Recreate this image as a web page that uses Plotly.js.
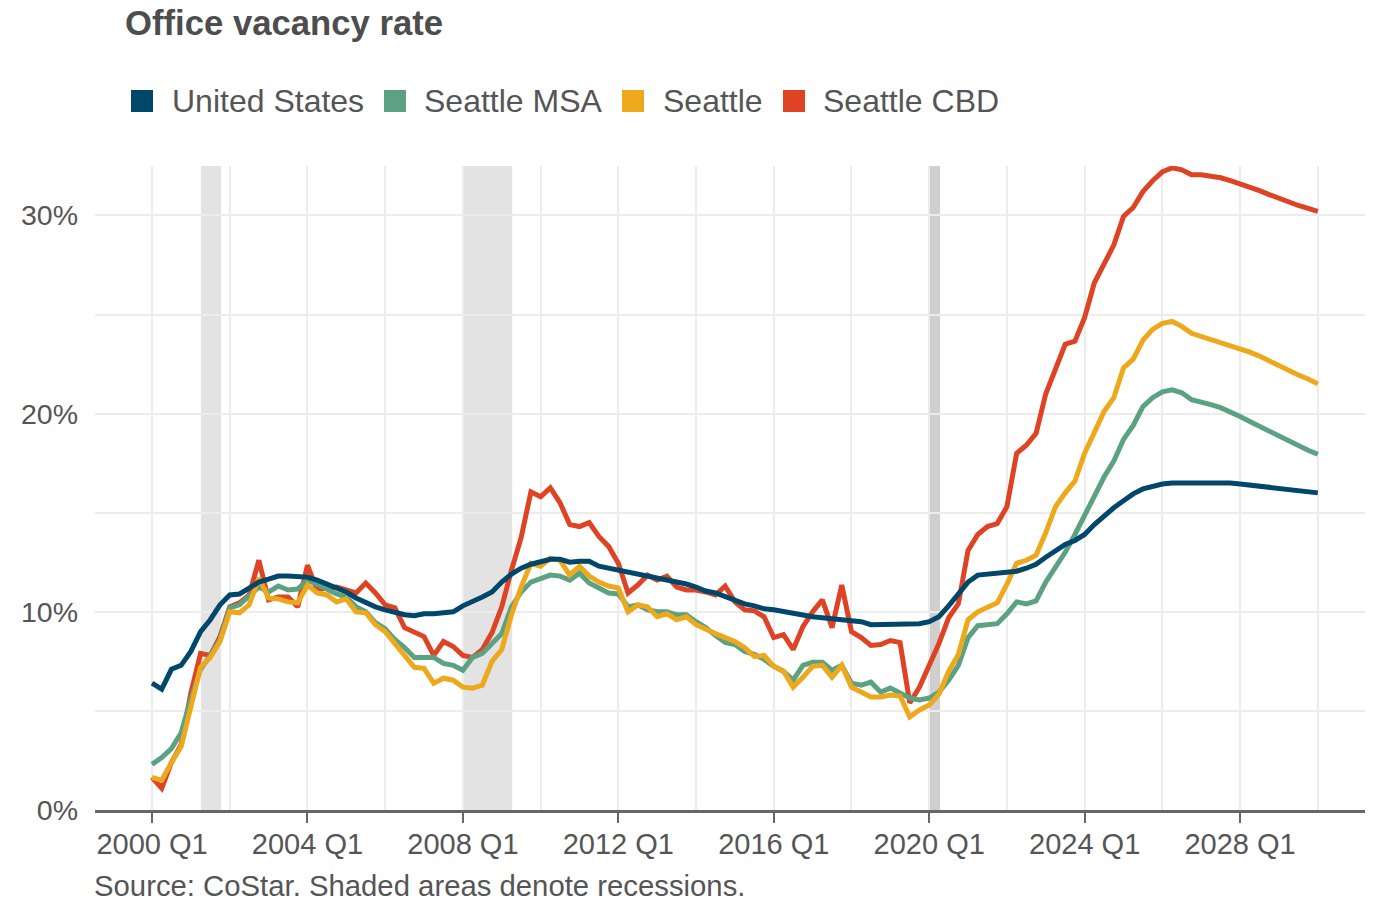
<!DOCTYPE html>
<html>
<head>
<meta charset="utf-8">
<script src="https://cdn.plot.ly/plotly-3.0.1.min.js"></script>
<style>
html,body{margin:0;padding:0;background:#ffffff;}
#chart{width:1384px;height:901px;}
</style>
</head>
<body>
<div id="chart"></div>
<script>
// ---------------- DATA ----------------
const seriesNames = ['United States', 'Seattle MSA', 'Seattle', 'Seattle CBD'];
const seriesColors = ['#01476b', '#5ba282', '#eea81c', '#de4324'];

const firstQuarterYear = 2000; // series start 2000 Q1, quarterly, through 2030 Q1

const unitedStates = [
  6.4, 6.1, 7.1, 7.3, 8.0, 9.0, 9.6, 10.35, 10.85, 10.9,
  11.2, 11.5, 11.65, 11.8, 11.8, 11.8, 11.75, 11.6, 11.4, 11.15,
  11.0, 10.7, 10.45, 10.25, 10.1, 9.95, 9.85, 9.8, 9.9, 9.9,
  9.95, 10.0, 10.3, 10.5, 10.75, 11.0, 11.5, 11.9, 12.2, 12.4,
  12.55, 12.65, 12.65, 12.5, 12.55, 12.55, 12.3, 12.2, 12.1, 12.0,
  11.95, 11.85, 11.7, 11.6, 11.5, 11.4, 11.25, 11.05, 10.95, 10.75,
  10.6, 10.4, 10.3, 10.15, 10.1, 10.0, 9.9, 9.8, 9.75, 9.7,
  9.65, 9.6, 9.55, 9.5, 9.35, 9.35, 9.35, 9.35, 9.35, 9.4,
  9.5, 9.75, 10.3, 10.9, 11.5, 11.85, 11.9, 11.9, 11.95, 12.05,
  12.2, 12.4, 12.75, 13.1, 13.4, 13.6, 13.9, 14.4, 14.85, 15.25,
  15.6, 15.95, 16.2, 16.35, 16.45, 16.5, 16.5, 16.5, 16.55, 16.55,
  16.55, 16.5, 16.45, 16.4, 16.35, 16.3, 16.25, 16.2, 16.15, 16.1,
  16.0
];

const seattleMSA = [
  2.3, 2.65, 3.1, 3.9, 5.6, 7.1, 7.8, 8.6, 10.2, 10.35,
  10.8, 11.25, 11.0, 11.3, 11.1, 11.15, 11.6, 11.35, 11.15, 10.9,
  10.75, 10.25, 10.0, 9.45, 9.15, 8.6, 8.2, 7.7, 7.7, 7.7,
  7.4, 7.3, 7.05, 7.7, 7.9, 8.4, 8.9, 10.25, 11.0, 11.5,
  11.7, 11.85, 11.8, 11.6, 11.95, 11.45, 11.2, 10.95, 10.9, 10.25,
  10.35, 10.1, 10.0, 10.0, 9.85, 9.85, 9.5, 9.2, 8.8, 8.45,
  8.35, 8.0, 7.85, 7.6, 7.25, 7.0, 6.55, 7.3, 7.45, 7.45,
  7.05, 7.3, 6.4, 6.3, 6.45, 5.95, 6.15, 5.9, 5.65, 5.55,
  5.65, 5.95, 6.55, 7.3, 8.7, 9.3, 9.35, 9.4, 9.9, 10.5,
  10.4, 10.55, 11.5, 12.2, 13.0, 13.9, 14.9, 15.8, 16.8, 17.6,
  18.7, 19.4, 20.35, 20.8, 21.1, 21.2, 21.05, 20.7, 20.6, 20.45,
  20.3, 20.1, 19.85, 19.6, 19.35, 19.1, 18.85, 18.6, 18.35, 18.15,
  17.95
];

const seattle = [
  1.65, 1.5, 2.4, 3.2, 5.2, 7.2, 7.7, 8.5, 10.0, 9.95,
  10.35, 11.7, 10.7, 10.65, 10.5, 10.45, 11.35, 10.95, 10.85, 10.5,
  10.65, 10.0, 9.95, 9.35, 9.0, 8.4, 7.8, 7.2, 7.15, 6.4,
  6.65, 6.55, 6.2, 6.15, 6.3, 7.5, 8.1, 9.85, 11.25, 12.45,
  12.3, 12.7, 12.6, 11.85, 12.3, 11.8, 11.5, 11.3, 11.2, 10.0,
  10.35, 10.25, 9.75, 9.9, 9.6, 9.75, 9.35, 9.1, 8.9, 8.7,
  8.5, 8.2, 7.75, 7.8, 7.25, 7.0, 6.2, 6.7, 7.25, 7.3,
  6.7, 7.3, 6.2, 5.95, 5.7, 5.7, 5.8, 5.75, 4.7, 5.05,
  5.3, 5.85, 7.0, 7.85, 9.6, 10.0, 10.25, 10.45, 11.4, 12.45,
  12.6, 12.85, 14.0, 15.3, 16.0, 16.6, 18.0, 19.1, 20.1, 20.8,
  22.3, 22.75, 23.7, 24.25, 24.55, 24.65, 24.4, 24.05, 23.9, 23.75,
  23.6, 23.45, 23.3, 23.1, 22.9, 22.65, 22.4, 22.2, 21.95, 21.75,
  21.5
];

const seattleCBD = [
  1.65, 1.1, 2.4, 3.3, 5.9, 7.9, 7.8, 8.75, 10.25, 10.45,
  10.85, 12.6, 10.6, 10.75, 10.75, 10.25, 12.35, 11.1, 11.2, 11.25,
  11.1, 10.95, 11.45, 10.95, 10.35, 10.2, 9.2, 8.95, 8.75, 7.8,
  8.5, 8.25, 7.8, 7.7, 8.1, 8.95, 10.25, 12.1, 13.75, 16.05,
  15.8, 16.25, 15.5, 14.4, 14.3, 14.5, 13.8, 13.3, 12.45, 10.95,
  11.35, 11.85, 11.6, 11.8, 11.25, 11.1, 11.1, 11.0, 10.85, 11.3,
  10.5, 10.1, 10.05, 9.75, 8.7, 8.85, 8.1, 9.25, 10.0, 10.6,
  9.2, 11.35, 9.0, 8.7, 8.3, 8.35, 8.55, 8.45, 5.4, 6.2,
  7.3, 8.4, 9.7, 10.4, 13.1, 13.9, 14.3, 14.45, 15.3, 18.0,
  18.4, 19.0, 21.0, 22.3, 23.5, 23.65, 24.85, 26.6, 27.6, 28.5,
  29.95, 30.4, 31.2, 31.75, 32.2, 32.4, 32.3, 32.05, 32.05, 32.0,
  31.9, 31.75, 31.6, 31.45, 31.25, 31.05, 30.85, 30.7, 30.5, 30.35,
  30.2
];

const xTickYears = [2000, 2004, 2008, 2012, 2016, 2020, 2024, 2028];
const xTickLabels = ['2000 Q1', '2004 Q1', '2008 Q1', '2012 Q1', '2016 Q1', '2020 Q1', '2024 Q1', '2028 Q1'];
const yTickValues = [0, 10, 20, 30];
const yTickLabels = ['0%', '10%', '20%', '30%'];

// recessions (decimal years)
const recessionStart = [2001.26, 2008.0, 2020.02];
const recessionEnd = [2001.78, 2009.27, 2020.28];
const recessionColors = ['#e3e3e3', '#e3e3e3', '#cfcfcf'];

const titleText = 'Office vacancy rate';
const sourceText = 'Source: CoStar. Shaded areas denote recessions.';

// ---------------- BUILD ----------------
const quarterX = unitedStates.map((_, i) => firstQuarterYear + i / 4);
const seriesValues = [unitedStates, seattleMSA, seattle, seattleCBD];

const FONT = '"Liberation Sans", Arial, Helvetica, sans-serif';
const TEXT = '#555555';

// plot area in pixels
const W = 1384, H = 901;
const M = {l: 95, r: 19, t: 166, b: 91};
const plotW = W - M.l - M.r, plotH = H - M.t - M.b;
const px2paperX = px => (px - M.l) / plotW;
const px2paperY = py => (H - M.b - py) / plotH;

// draw order: CBD, MSA, Seattle, US (US on top)
const drawOrder = [3, 1, 2, 0];
const traces = drawOrder.map(k => ({
  type: 'scatter',
  mode: 'lines',
  name: seriesNames[k],
  x: quarterX,
  y: seriesValues[k],
  line: {color: seriesColors[k], width: 5},
  showlegend: false,
  hoverinfo: 'skip'
}));

const shapes = recessionStart.map((s, i) => ({
  type: 'rect', xref: 'x', yref: 'paper',
  x0: s, x1: recessionEnd[i], y0: 0, y1: 1,
  fillcolor: recessionColors[i], line: {width: 0}, layer: 'below'
}));

// manual legend (square swatches + text)
const legendSquareLeft = [131, 384, 622, 783];
const legendTextLeft = [170, 422, 661, 821];
const legendCenterY = 101, sq = 22;
const annotations = [];
seriesNames.forEach((name, k) => {
  shapes.push({
    type: 'rect', xref: 'paper', yref: 'paper',
    x0: px2paperX(legendSquareLeft[k]), x1: px2paperX(legendSquareLeft[k] + sq),
    y0: px2paperY(legendCenterY + sq / 2), y1: px2paperY(legendCenterY - sq / 2),
    fillcolor: seriesColors[k], line: {width: 0}
  });
  annotations.push({
    xref: 'paper', yref: 'paper',
    x: px2paperX(legendTextLeft[k]), y: px2paperY(legendCenterY),
    xanchor: 'left', yanchor: 'middle', showarrow: false,
    text: name, font: {family: FONT, size: 32, color: TEXT}
  });
});
annotations.push({
  xref: 'paper', yref: 'paper',
  x: px2paperX(93), y: px2paperY(886),
  xanchor: 'left', yanchor: 'middle', showarrow: false, borderpad: 0,
  text: sourceText, font: {family: FONT, size: 29.3, color: TEXT}
});

const xLeft = firstQuarterYear - (152 - M.l) / 38.86;
const xRight = firstQuarterYear + (M.l + plotW - 152) / 38.86;

const layout = {
  width: W, height: H,
  margin: M,
  paper_bgcolor: '#ffffff',
  plot_bgcolor: '#ffffff',
  font: {family: FONT, color: TEXT},
  title: {
    text: '<b>' + titleText + '</b>',
    xref: 'container', yref: 'container',
    x: 125 / W, y: 1 - 23 / H,
    xanchor: 'left', yanchor: 'middle',
    font: {family: FONT, size: 34.7, color: '#4d4d4d'}
  },
  showlegend: false,
  xaxis: {
    range: [xLeft, xRight],
    tickmode: 'array', tickvals: xTickYears, ticktext: xTickLabels,
    ticks: 'outside', ticklen: 10, tickwidth: 2, tickcolor: '#666666',
    ticklabelstandoff: -4,
    tickfont: {family: FONT, size: 29, color: TEXT},
    showline: true, linecolor: '#666666', linewidth: 3,
    showgrid: true, gridcolor: '#ececec', gridwidth: 2,
    minor: {tickmode: 'linear', tick0: 2002, dtick: 4, showgrid: true, gridcolor: '#ececec', gridwidth: 2, ticks: ''},
    zeroline: false, fixedrange: true
  },
  yaxis: {
    range: [0, (H - M.b - M.t) / 19.82],
    tickmode: 'array', tickvals: yTickValues, ticktext: yTickLabels,
    ticks: '', ticklabelstandoff: 16,
    tickfont: {family: FONT, size: 28.5, color: TEXT},
    showline: false,
    showgrid: true, gridcolor: '#ececec', gridwidth: 2,
    minor: {tickmode: 'linear', tick0: 5, dtick: 10, showgrid: true, gridcolor: '#ececec', gridwidth: 2, ticks: ''},
    zeroline: false, fixedrange: true
  },
  shapes: shapes,
  annotations: annotations
};

Plotly.newPlot('chart', traces, layout, {displayModeBar: false, staticPlot: true});
</script>
</body>
</html>
